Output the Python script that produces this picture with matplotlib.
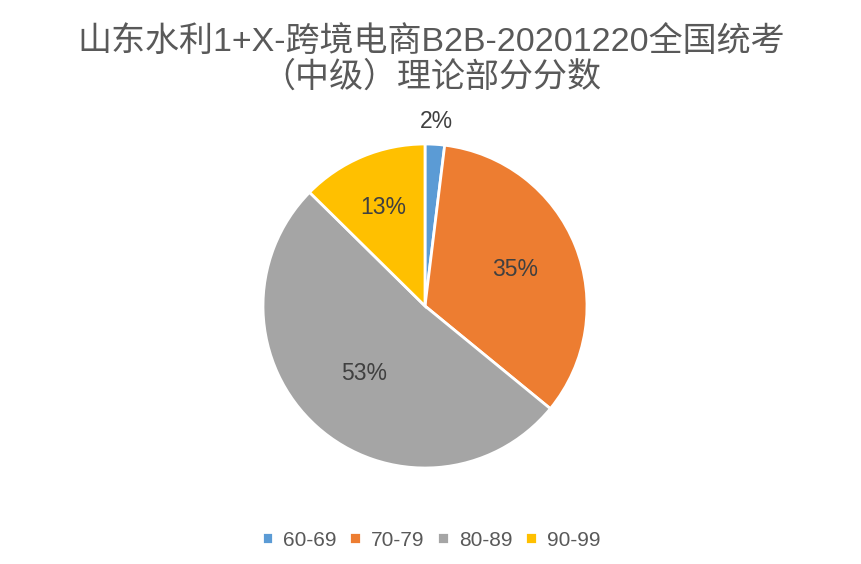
import numpy as np
import matplotlib.pyplot as plt

plt.rcParams['font.family'] = ['Liberation Sans', 'Noto Sans CJK SC', 'DejaVu Sans']

categories = ['60-69', '70-79', '80-89', '90-99']
values = [2, 35, 53, 13]
colors = ['#5B9BD5', '#ED7D31', '#A5A5A5', '#FFC000']
label_dist = [1.14, 0.6, 0.56, 0.66]

W, H = 862, 564
fig = plt.figure(figsize=(W / 100, H / 100), dpi=100)
cx, cy, r = 425, 306, 162
ax = fig.add_axes([(cx - r) / W, (H - cy - r) / H, 2 * r / W, 2 * r / H])

wedges, _ = ax.pie(values, colors=colors, startangle=90, counterclock=False,
                   wedgeprops=dict(edgecolor='white', linewidth=2))
ax.set_xlim(-1, 1)
ax.set_ylim(-1, 1)
ax.set_aspect('equal')

for w, v, d in zip(wedges, values, label_dist):
    ang = np.deg2rad((w.theta1 + w.theta2) / 2)
    ax.text(d * np.cos(ang), d * np.sin(ang), f'{v}%', ha='center', va='center',
            fontsize=16.5, color='#404040')

fig.text(0.5, 1 - 42 / H, '山东水利1+X-跨境电商B2B-20201220全国统考', ha='center', va='center',
         fontsize=24.5, color='#595959', fontweight='light')
fig.text(0.5, 1 - 78 / H, '（中级）理论部分分数', ha='center', va='center',
         fontsize=24.5, color='#595959', fontweight='light')

leg = fig.legend(wedges, categories, loc='center', bbox_to_anchor=(0.5, 1 - 540 / H), ncol=4,
                 frameon=False, fontsize=15, handlelength=0.55, handleheight=0.55,
                 handletextpad=0.5, columnspacing=0.6)
for t in leg.get_texts():
    t.set_color('#595959')

fig.savefig('out.png', dpi=100)
